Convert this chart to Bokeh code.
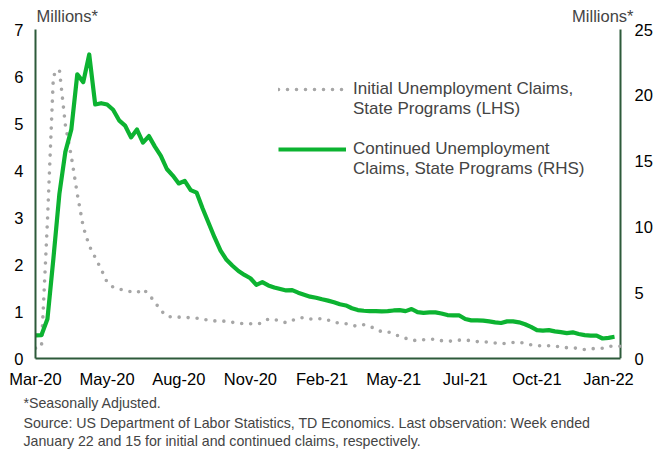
from bokeh.plotting import figure
from bokeh.models import (Range1d, LinearAxis, FixedTicker, Label, Legend,
                          LegendItem, Title)
from bokeh.embed import file_html
from bokeh.resources import INLINE

# Weekly observations, week ending Mar 7 2020 (index 0) to Jan 22 2022 (index 98)
initial_claims = [  # millions, LHS
    0.22, 0.25, 2.92, 6.02, 6.15, 4.97, 4.30, 3.50, 2.80, 2.40,
    2.15, 1.90, 1.62, 1.52, 1.48, 1.45, 1.42, 1.40, 1.48, 1.36,
    1.20, 1.02, 0.90, 0.88, 0.88, 0.87, 0.87, 0.86, 0.83, 0.82,
    0.80, 0.80, 0.79, 0.77, 0.75, 0.74, 0.74, 0.73, 0.76, 0.84,
    0.83, 0.80, 0.76, 0.81, 0.86, 0.87, 0.84, 0.84, 0.85, 0.82,
    0.77, 0.75, 0.74, 0.70, 0.69, 0.72, 0.69, 0.62, 0.57, 0.57,
    0.52, 0.47, 0.43, 0.39, 0.38, 0.40, 0.41, 0.41, 0.38, 0.37,
    0.37, 0.39, 0.39, 0.38, 0.36, 0.35, 0.35, 0.33, 0.31, 0.33,
    0.34, 0.35, 0.32, 0.29, 0.27, 0.27, 0.27, 0.27, 0.24, 0.23,
    0.23, 0.21, 0.19, 0.21, 0.21, 0.22, 0.26, 0.26, 0.26,
]
continued_claims = [  # millions, RHS (last: week ending Jan 15 2022)
    1.75, 1.78, 3.00, 7.60, 12.50, 15.70, 17.40, 21.60, 21.00, 23.10,
    19.30, 19.40, 19.30, 18.90, 18.10, 17.70, 16.80, 17.40, 16.40, 16.90,
    16.10, 15.40, 14.40, 13.90, 13.30, 13.50, 12.80, 12.60, 11.40, 10.30,
    9.20, 8.20, 7.50, 7.05, 6.65, 6.35, 6.10, 5.60, 5.80, 5.55,
    5.40, 5.28, 5.17, 5.20, 5.00, 4.85, 4.70, 4.62, 4.50, 4.40,
    4.28, 4.12, 4.03, 3.82, 3.68, 3.63, 3.60, 3.60, 3.58, 3.60,
    3.65, 3.68, 3.60, 3.76, 3.52, 3.47, 3.50, 3.50, 3.42, 3.30,
    3.27, 3.27, 3.00, 2.90, 2.89, 2.88, 2.82, 2.75, 2.70, 2.82,
    2.82, 2.75, 2.60, 2.40, 2.15, 2.12, 2.16, 2.06, 2.00, 1.93,
    1.99, 1.86, 1.78, 1.74, 1.74, 1.52, 1.57, 1.65,
]
tick_weeks = [0, 12, 24, 36, 48, 60, 72, 84, 96]
tick_labels = ["Mar-20", "May-20", "Aug-20", "Nov-20", "Feb-21",
               "May-21", "Jul-21", "Oct-21", "Jan-22"]
lhs_ticks = [0, 1, 2, 3, 4, 5, 6, 7]
rhs_ticks = [0, 5, 10, 15, 20, 25]

FONT = "Liberation Sans"
AXIS_COLOR = "#2d5a3a"
GREY = "#a6a6a6"
GREEN = "#0cb331"

# pixel layout of the chart box (left axis, right axis, top of scale, bottom axis)
W, H = 656, 449
PX_L, PX_R, PX_TOP, PX_BOT = 35, 620, 29, 358
FRAME_R, FRAME_T = 634, 3          # frame is widened so the captions are not clipped

x_last = len(initial_claims) - 1
lhs_max, rhs_max = lhs_ticks[-1], rhs_ticks[-1]
x_end = x_last * (FRAME_R - PX_L) / (PX_R - PX_L)
y_scale_ext = (PX_BOT - FRAME_T) / (PX_BOT - PX_TOP)

p = figure(width=W, height=H, output_backend="svg", toolbar_location=None,
           x_range=Range1d(0, x_end), y_range=Range1d(0, lhs_max * y_scale_ext),
           min_border_left=PX_L, min_border_right=W - FRAME_R,
           min_border_top=FRAME_T, min_border_bottom=H - PX_BOT,
           outline_line_color=None)
p.extra_y_ranges = {"rhs": Range1d(0, rhs_max * y_scale_ext)}
p.xgrid.visible = False
p.ygrid.visible = False


def style_axis(ax):
    ax.axis_line_color = AXIS_COLOR
    ax.axis_line_width = 2
    ax.major_tick_out = 0
    ax.major_tick_in = 0
    ax.minor_tick_out = 0
    ax.minor_tick_in = 0
    ax.major_label_text_font = FONT
    ax.major_label_text_font_size = "16.5px"
    ax.major_label_text_color = "#000000"


for ax in p.xaxis + p.yaxis:
    style_axis(ax)

p.xaxis.ticker = FixedTicker(ticks=tick_weeks)
p.xaxis.major_label_overrides = {w: l for w, l in zip(tick_weeks, tick_labels)}
p.xaxis.major_label_standoff = 11
p.xaxis.bounds = (0, x_last)
p.yaxis.ticker = FixedTicker(ticks=lhs_ticks)
p.yaxis.major_label_standoff = 12
p.yaxis.bounds = (0, lhs_max)

rax = LinearAxis(y_range_name="rhs", ticker=FixedTicker(ticks=rhs_ticks))
style_axis(rax)
rax.axis_line_color = None
rax.major_label_standoff = 0
p.add_layout(rax, "right")

# right-hand axis line at the last week
p.segment(x0=[x_last], y0=[0], x1=[x_last], y1=[lhs_max],
          line_color=AXIS_COLOR, line_width=2)

xi = list(range(len(initial_claims)))
xc = list(range(len(continued_claims)))
r_init = p.line(xi, initial_claims, line_color=GREY, line_width=3.6,
                line_dash="0 9", line_cap="round")
r_cont = p.line(xc, continued_claims, line_color=GREEN, line_width=4.2,
                line_join="round", y_range_name="rhs")

# legend: sample drawn beside the first line of each two-line label
legend = Legend(items=[
    LegendItem(label="Initial Unemployment Claims,", renderers=[r_init]),
    LegendItem(label="State Programs (LHS)", renderers=[]),
    LegendItem(label=" ", renderers=[]),
    LegendItem(label="Continued Unemployment", renderers=[r_cont]),
    LegendItem(label="Claims, State Programs (RHS)", renderers=[]),
], location=(243, 179), background_fill_alpha=0, border_line_color=None,
    glyph_width=68, glyph_height=20, label_height=20, label_standoff=7, spacing=0,
    label_text_font=FONT, label_text_font_size="17px",
    padding=0, margin=0)
p.add_layout(legend, "center")

# axis unit captions
p.add_layout(Label(x=0, y=lhs_max, text="Millions*", text_font=FONT, text_font_size="16.5px",
                   x_offset=1, y_offset=5, text_baseline="bottom", text_align="left"))
p.add_layout(Label(x=x_last, y=lhs_max, text="Millions*", text_font=FONT,
                   text_font_size="16.5px", x_offset=13, y_offset=5,
                   text_baseline="bottom", text_align="right"))

# footnotes below the axis
notes = ["*Seasonally Adjusted.",
         "Source: US Department of Labor Statistics, TD Economics. Last observation: Week ended",
         "January 22 and 15 for initial and continued claims, respectively."]
for k, t in enumerate(notes):
    p.add_layout(Title(text=t, align="left", offset=-12, text_font=FONT,
                       text_font_size="14.2px", text_font_style="normal",
                       standoff=0 if k else 4), "below")

open("out.html", "w").write(file_html(p, INLINE))
